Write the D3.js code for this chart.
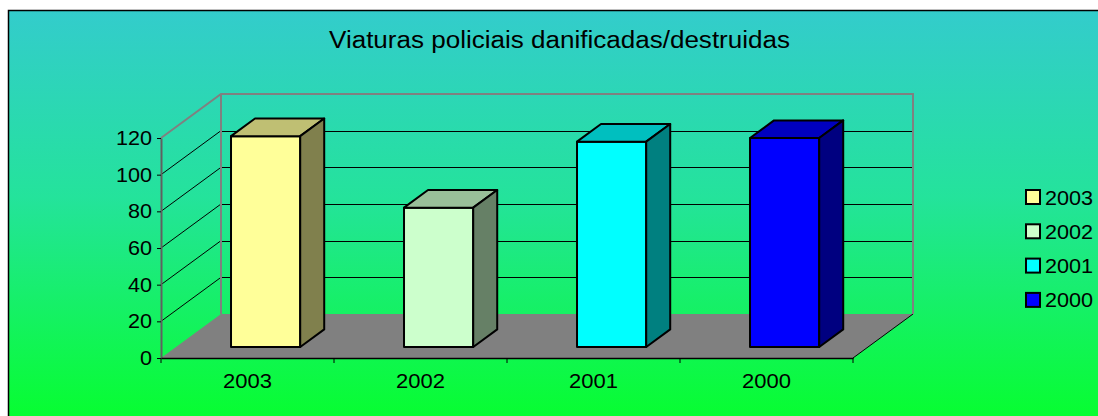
<!DOCTYPE html>
<html>
<head>
<meta charset="utf-8">
<script src="https://cdn.jsdelivr.net/npm/d3@7"></script>
<style>
  body { margin: 0; background: #fff; }
  text { font-family: "Liberation Sans", Arial, sans-serif; fill: #000; }
</style>
</head>
<body>
<div id="chart"></div>
<script>
// chart data
const categories = ["2003", "2002", "2001", "2000"];
const values = [115, 76, 112, 114];
const yTicks = [0, 20, 40, 60, 80, 100, 120];
const frontColors = ["#FFFF99", "#CCFFCC", "#00FFFF", "#0000FF"];
const title = "Viaturas policiais danificadas/destruidas";

const width = 1098;
const height = 416;

// depth of the 3d box and of each bar
const DX = 60, DY = 44;
const barZ0 = 0.25, barZ1 = 0.65;

const x = d3.scaleBand().domain(categories).range([161, 853]);
const y = d3.scaleLinear().domain([0, 120]).range([358, 138]);

const svg = d3
  .select("#chart")
  .append("svg")
  .attr("width", width)
  .attr("height", height);

// the original text is a little wider than the font, stretch it
function stretch(sel, k) {
  sel.each(function () {
    const w = this.getComputedTextLength();
    d3.select(this).attr("textLength", w * k).attr("lengthAdjust", "spacingAndGlyphs");
  });
}

// background gradient
const grad = svg.append("defs").append("linearGradient")
  .attr("id", "bg").attr("x1", 0).attr("y1", 0).attr("x2", 0).attr("y2", 1);
grad.append("stop").attr("offset", "0%").attr("stop-color", "#33CCCC");
grad.append("stop").attr("offset", "45%").attr("stop-color", "#24E39B");
grad.append("stop").attr("offset", "100%").attr("stop-color", "#06FF2C");

svg.append("rect")
  .attr("x", 8.5).attr("y", 10.5)
  .attr("width", width).attr("height", height)
  .attr("fill", "url(#bg)")
  .attr("stroke", "#000").attr("stroke-width", 1.5);

svg.append("text")
  .attr("x", 559.5).attr("y", 48)
  .attr("text-anchor", "middle")
  .attr("font-size", 23)
  .attr("textLength", 461)
  .attr("lengthAdjust", "spacingAndGlyphs")
  .text(title);

const x0 = x.range()[0], x1 = x.range()[1];

// floor
svg.append("path")
  .attr("d", `M${x0},${y(0)} L${x0 + DX},${y(0) - DY} L${x1 + DX},${y(0) - DY} L${x1},${y(0)} Z`)
  .attr("fill", "#808080");
svg.append("line")
  .attr("x1", x1).attr("y1", y(0)).attr("x2", x1 + DX).attr("y2", y(0) - DY)
  .attr("stroke", "#000").attr("stroke-width", 1);

// gridlines on back wall and side wall
const grid = yTicks.filter((d) => d > 0 && d < 120);
svg.selectAll(".gback").data(grid).enter().append("line")
  .attr("x1", x0 + DX).attr("x2", x1 + DX)
  .attr("y1", (d) => Math.round(y(d) - DY) + 0.5)
  .attr("y2", (d) => Math.round(y(d) - DY) + 0.5)
  .attr("stroke", "#000").attr("stroke-width", 1);
svg.selectAll(".gside").data(grid).enter().append("line")
  .attr("x1", x0).attr("y1", (d) => y(d))
  .attr("x2", x0 + DX).attr("y2", (d) => y(d) - DY)
  .attr("stroke", "#000").attr("stroke-width", 1);

// wall edges
const yTop = y(120);
svg.append("path")
  .attr("d", `M${x0},${yTop} L${x0 + DX},${yTop - DY} L${x1 + DX},${yTop - DY} L${x1 + DX},${y(0) - DY}`)
  .attr("fill", "none").attr("stroke", "#808080").attr("stroke-width", 2);
svg.append("line")
  .attr("x1", x0 + DX).attr("x2", x0 + DX)
  .attr("y1", yTop - DY).attr("y2", y(0) - DY)
  .attr("stroke", "#808080").attr("stroke-width", 2);

// y axis
const yAxis = d3.axisLeft(y).tickValues(yTicks).tickSize(4).tickSizeOuter(0).tickPadding(5);
const gy = svg.append("g").attr("transform", `translate(${x0},0)`).call(yAxis);
gy.select(".domain").attr("stroke", "#606060").attr("stroke-width", 2);
gy.selectAll(".tick line").attr("stroke", "#000");
gy.selectAll(".tick text").attr("font-size", 20).attr("font-family", null).attr("fill", "#000")
  .call(stretch, 1.08);

// x axis line, boundary ticks and labels
const xAxis = d3.axisBottom(x).tickSize(0).tickSizeOuter(0).tickPadding(16);
const gx = svg.append("g").attr("transform", `translate(0,${y(0)})`).call(xAxis);
gx.select(".domain").attr("stroke", "#000").attr("stroke-width", 1.5);
gx.selectAll(".tick text").attr("font-size", 20).attr("font-family", null).attr("fill", "#000")
  .call(stretch, 1.1);
const bounds = categories.map((c) => x(c)).concat([x1]);
svg.selectAll(".xtick").data(bounds).enter().append("line")
  .attr("x1", (d) => d).attr("x2", (d) => d)
  .attr("y1", y(0)).attr("y2", y(0) + 5)
  .attr("stroke", "#000");

// bars
function shade(c, k) {
  const r = d3.rgb(c);
  return d3.rgb(r.r * k, r.g * k, r.b * k).formatHex();
}
const bw = x.bandwidth() * 0.4;
const bOff = x.bandwidth() * 0.318;
const fdx = DX * barZ0, fdy = DY * barZ0;
const ddx = DX * (barZ1 - barZ0), ddy = DY * (barZ1 - barZ0);

const bars = svg.selectAll(".bar").data(values).enter().append("g");
bars.append("rect")
  .attr("x", (d, i) => x(categories[i]) + bOff + fdx)
  .attr("y", (d) => y(d) - fdy)
  .attr("width", bw)
  .attr("height", (d) => y(0) - y(d))
  .attr("fill", (d, i) => frontColors[i]);
bars.append("path")
  .attr("d", (d, i) => {
    const lx = x(categories[i]) + bOff + fdx, ty = y(d) - fdy;
    return `M${lx},${ty} L${lx + ddx},${ty - ddy} L${lx + bw + ddx},${ty - ddy} L${lx + bw},${ty} Z`;
  })
  .attr("fill", (d, i) => shade(frontColors[i], 0.75));
bars.append("path")
  .attr("d", (d, i) => {
    const rx = x(categories[i]) + bOff + fdx + bw, ty = y(d) - fdy, by = y(0) - fdy;
    return `M${rx},${ty} L${rx + ddx},${ty - ddy} L${rx + ddx},${by - ddy} L${rx},${by} Z`;
  })
  .attr("fill", (d, i) => shade(frontColors[i], 0.5));
bars.selectAll("rect, path")
  .attr("stroke", "#000").attr("stroke-width", 2).attr("stroke-linejoin", "round");

// legend
const legend = svg.selectAll(".legend").data(categories).enter().append("g")
  .attr("transform", (d, i) => `translate(1026,${197 + i * 34.3})`);
legend.append("rect")
  .attr("x", 0).attr("y", -7).attr("width", 14).attr("height", 14)
  .attr("fill", (d, i) => frontColors[i])
  .attr("stroke", "#000").attr("stroke-width", 2);
legend.append("text")
  .attr("x", 19).attr("y", 7.5)
  .attr("font-size", 20)
  .text((d) => d)
  .call(stretch, 1.08);
</script>
</body>
</html>
